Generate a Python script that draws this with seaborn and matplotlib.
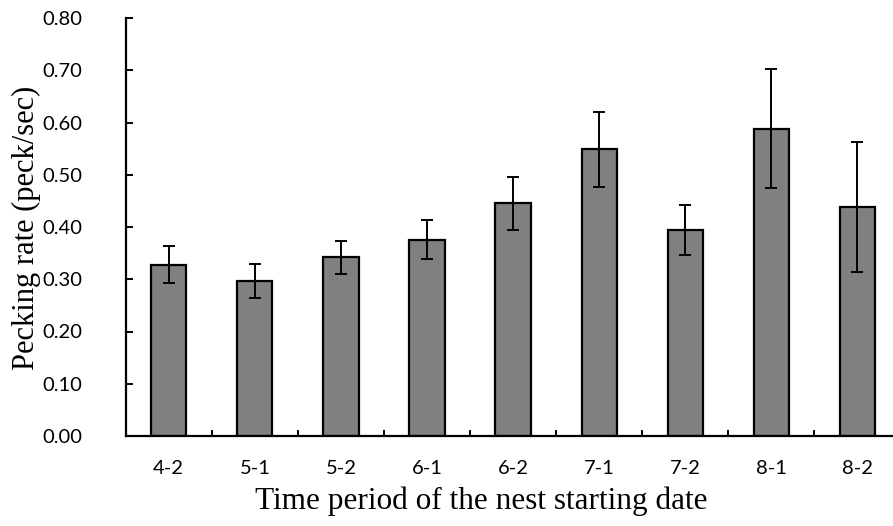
import matplotlib
matplotlib.use("Agg")
import matplotlib.pyplot as plt
import seaborn as sns
import numpy as np
import pandas as pd
from matplotlib.ticker import FixedLocator, FormatStrFormatter

categories = ["4-2", "5-1", "5-2", "6-1", "6-2", "7-1", "7-2", "8-1", "8-2"]
means = [0.328, 0.297, 0.342, 0.376, 0.445, 0.549, 0.395, 0.588, 0.438]
errors = [0.035, 0.032, 0.031, 0.037, 0.050, 0.072, 0.048, 0.114, 0.125]
yticks = [0.0, 0.1, 0.2, 0.3, 0.4, 0.5, 0.6, 0.7, 0.8]

sns.set_theme(style="white")
plt.rcParams["font.family"] = ["Lato", "DejaVu Sans"]

W, H = 893, 526
fig = plt.figure(figsize=(W / 100, H / 100), dpi=100)
left, right = 125.7, 900.5
bottom, top = 436, 18
ax = fig.add_axes([left / W, (H - bottom) / H, (right - left) / W, (bottom - top) / H])

df = pd.DataFrame({"cat": categories, "val": means})
sns.barplot(data=df, x="cat", y="val", color="#808080", saturation=1,
            edgecolor="black", linewidth=1.6, width=0.41, ax=ax, errorbar=None)
ax.errorbar(np.arange(len(categories)), means, yerr=errors, fmt="none",
            ecolor="black", elinewidth=1.4, capsize=4.5, capthick=1.4)

ax.set_xlim(-0.5, len(categories) - 0.5)
ax.set_ylim(0, 0.8)
ax.set_yticks(yticks)
ax.yaxis.set_major_formatter(FormatStrFormatter("%.2f"))

for s in ["top", "right"]:
    ax.spines[s].set_visible(False)
for s in ["left", "bottom"]:
    ax.spines[s].set_color("black")
    ax.spines[s].set_linewidth(1.6)

ax.tick_params(axis="y", direction="in", length=5, width=1.4, color="black",
               pad=31, labelsize=14.5, labelcolor="black", left=True)
ax.tick_params(axis="x", which="major", length=0, pad=17, labelsize=14.5,
               labelcolor="black")
ax.xaxis.set_minor_locator(FixedLocator(np.arange(0.5, len(categories) - 0.5, 1.0)))
ax.tick_params(axis="x", which="minor", direction="in", length=4.5, width=1.4,
               color="black", bottom=True)

ax.set_xlabel("Time period of the nest starting date", family="Liberation Serif",
              fontsize=22.5, color="black")
ax.set_ylabel("Pecking rate (peck/sec)", family="Liberation Serif",
              fontsize=22, color="black")
ax.xaxis.set_label_coords((481 - left) / (right - left), -(487 - bottom) / (bottom - top))
ax.yaxis.set_label_coords(-(left - 41) / (right - left), (bottom - 227.5) / (bottom - top))

fig.savefig("out.png", dpi=100)
